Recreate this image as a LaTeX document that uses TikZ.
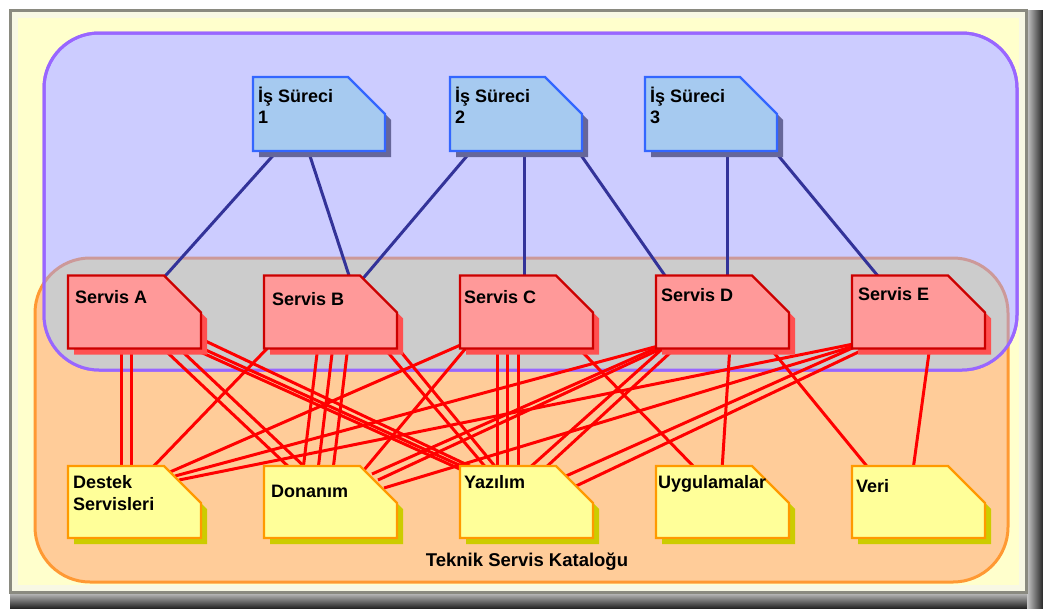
\documentclass[tikz,border=0pt]{standalone}
\usepackage{fontspec}
\setmainfont{Liberation Sans}
\usetikzlibrary{calc}

\definecolor{cream}{HTML}{FFFFCC}
\definecolor{creamEdge}{HTML}{F8F8E4}
\definecolor{frameLine}{HTML}{8A8A80}
\definecolor{purpleFill}{HTML}{CCCCFF}
\definecolor{purpleLine}{HTML}{9966FF}
\definecolor{orangeFill}{HTML}{FFCC99}
\definecolor{orangeLine}{HTML}{FF9933}
\definecolor{overlapFill}{HTML}{CCCCCC}
\definecolor{overlapLine}{HTML}{CC9999}
\definecolor{blueFill}{HTML}{A6CAF0}
\definecolor{blueLine}{HTML}{3366FF}
\definecolor{blueShadow}{HTML}{666699}
\definecolor{redFill}{HTML}{FF9999}
\definecolor{redLine}{HTML}{CC0000}
\definecolor{redShadow}{HTML}{FF5050}
\definecolor{yelFill}{HTML}{FFFF99}
\definecolor{yelLine}{HTML}{FF9900}
\definecolor{yelShadow}{HTML}{CCCC00}
\definecolor{linkBlue}{HTML}{333399}
\definecolor{linkRed}{HTML}{FF0000}

% cut-corner document box with drop shadow, drawn over a named node
\newcommand\cutnode[4]{%
  \fill[#4] ([shift={(6,6)}]#1.south west) -- ([shift={(6,6)}]#1.north west)
    -- ([shift={(-31,6)}]#1.north east) -- ([shift={(6,43)}]#1.north east)
    -- ([shift={(6,6)}]#1.south east) -- cycle;
  \filldraw[fill=#2, draw=#3, line width=2.2, line join=miter] (#1.south west) -- (#1.north west)
    -- ([shift={(-37,0)}]#1.north east) -- ([shift={(0,37)}]#1.north east)
    -- (#1.south east) -- cycle;}
% connector between two nodes, ends given as offsets from each node's top-left corner
\newcommand\rlink[4]{\draw[redlink] ([shift={#2}]#1.north west) -- ([shift={#4}]#3.north west);}
\newcommand\blink[4]{\draw[bluelink] ([shift={#2}]#1.north west) -- ([shift={#4}]#3.north west);}

\begin{document}
\begin{tikzpicture}[x=1pt,y=-1pt,
  box/.style={draw=none, inner sep=0, outer sep=0, minimum width=133, minimum height=73},
  bpbox/.style={box, minimum width=132, minimum height=74},
  catbox/.style={box, minimum height=72},
  lbl/.style={anchor=base west, inner sep=0, font=\fontsize{18}{21}\selectfont\bfseries},
  redlink/.style={linkRed, line width=3},
  bluelink/.style={linkBlue, line width=3}]
\useasboundingbox (0,0) rectangle (1043,608);

% page frame with bevel and shadow
\fill[white] (0,0) rectangle (1043,608);
\shade[top color=gray!45, bottom color=black!85] (10,592) rectangle (1043,608);
\shade[left color=gray!45, right color=black!85] (1027,10) rectangle (1043,608);
\draw[frameLine, line width=3, fill=cream] (10.5,10.5) rectangle (1026,592);
\draw[creamEdge, line width=6] (15,15) rectangle (1021.5,587.5);

% service catalogue area and business area
\filldraw[fill=orangeFill, draw=orangeLine, line width=3, rounded corners=55] (35,258) rectangle (1008,582);
\filldraw[fill=purpleFill, draw=purpleLine, line width=3, rounded corners=55] (44,33) rectangle (1017,370);
\begin{scope}
  \clip[rounded corners=55] (44,33) rectangle (1017,370);
  \filldraw[fill=overlapFill, draw=overlapLine, line width=3, rounded corners=55] (35,258) rectangle (1008,582);
\end{scope}
\draw[purpleLine, line width=3, rounded corners=55] (44,33) rectangle (1017,370);

\node[anchor=base, inner sep=0, font=\fontsize{18.5}{22}\selectfont\bfseries] (cat) at (527,566) {Teknik Servis Kataloğu};

% node frames
\node[bpbox] (bp1) at (319,114) {};
\node[bpbox] (bp2) at (516,114) {};
\node[bpbox] (bp3) at (711,114) {};
\node[box] (sA) at (134.5,312) {};
\node[box] (sB) at (330.5,312) {};
\node[box] (sC) at (526.5,312) {};
\node[box] (sD) at (722.5,312) {};
\node[box] (sE) at (918.5,312) {};
\node[catbox] (dk) at (134.5,502) {};
\node[catbox] (do) at (330.5,502) {};
\node[catbox] (yz) at (526.5,502) {};
\node[catbox] (uy) at (722.5,502) {};
\node[catbox] (ve) at (918.5,502) {};

% process to service links
\blink{bp1}{(25,73)}{sA}{(95,3)}
\blink{bp1}{(55,73)}{sB}{(86,3)}
\blink{bp2}{(22,73)}{sB}{(99,3)}
\blink{bp2}{(74,73)}{sC}{(64,3)}
\blink{bp2}{(126,71)}{sD}{(11,3)}
\blink{bp3}{(82,73)}{sD}{(71,3)}
\blink{bp3}{(127,71)}{sE}{(28,3)}

% service to catalogue links
\rlink{sA}{(53,70)}{dk}{(53,4)}
\rlink{sA}{(63,70)}{dk}{(63,4)}
\rlink{sA}{(92,70)}{do}{(28,4)}
\rlink{sA}{(108,70)}{do}{(44,4)}
\rlink{sA}{(118,70)}{yz}{(2,4)}
\rlink{sA}{(130,71)}{yz}{(10,4)}
\rlink{sA}{(130,62)}{yz}{(18,4)}
\rlink{sB}{(6,70)}{dk}{(82,4)}
\rlink{sB}{(54,70)}{do}{(39,4)}
\rlink{sB}{(69,70)}{do}{(54,4)}
\rlink{sB}{(84,70)}{do}{(69,4)}
\rlink{sB}{(118,70)}{yz}{(28,4)}
\rlink{sB}{(130,68)}{yz}{(38,4)}
\rlink{sC}{(4,68)}{dk}{(102,6)}
\rlink{sC}{(8,70)}{do}{(100,4)}
\rlink{sC}{(37,70)}{yz}{(37,4)}
\rlink{sC}{(47,70)}{yz}{(47,4)}
\rlink{sC}{(58,70)}{yz}{(58,4)}
\rlink{sC}{(116,70)}{uy}{(41,4)}
\rlink{sD}{(4,70)}{dk}{(107,10)}
\rlink{sD}{(6,70)}{do}{(108,8)}
\rlink{sD}{(12,70)}{do}{(114,14)}
\rlink{sD}{(10,70)}{yz}{(67,4)}
\rlink{sD}{(22,70)}{yz}{(83,4)}
\rlink{sD}{(74,70)}{uy}{(66,4)}
\rlink{sD}{(112,70)}{ve}{(18,4)}
\rlink{sE}{(4,68)}{dk}{(111,14)}
\rlink{sE}{(4,70)}{do}{(120,22)}
\rlink{sE}{(6,70)}{yz}{(106,10)}
\rlink{sE}{(16,72)}{yz}{(116,20)}
\rlink{sE}{(78,70)}{ve}{(61,4)}

% boxes
\foreach \n in {bp1,bp2,bp3} {\cutnode{\n}{blueFill}{blueLine}{blueShadow}}
\foreach \n in {sA,sB,sC,sD,sE} {\cutnode{\n}{redFill}{redLine}{redShadow}}
\foreach \n in {dk,do,yz,uy,ve} {\cutnode{\n}{yelFill}{yelLine}{yelShadow}}

% labels
\node[lbl] (bp1a) at (258,102) {İş Süreci};
\node[lbl] (bp1b) at (258,123) {1};
\node[lbl] (bp2a) at (455,102) {İş Süreci};
\node[lbl] (bp2b) at (455,123) {2};
\node[lbl] (bp3a) at (650,102) {İş Süreci};
\node[lbl] (bp3b) at (650,123) {3};
\node[lbl] (sAt) at (75,303) {Servis A};
\node[lbl] (sBt) at (272,305) {Servis B};
\node[lbl] (sCt) at (464,303) {Servis C};
\node[lbl] (sDt) at (661,301) {Servis D};
\node[lbl] (sEt) at (858,300) {Servis E};
\node[lbl] (dka) at (73,488) {Destek};
\node[lbl] (dkb) at (73,510) {Servisleri};
\node[lbl] (dot) at (271,497) {Donanım};
\node[lbl] (yzt) at (464,488) {Yazılım};
\node[lbl] (uyt) at (658,488) {Uygulamalar};
\node[lbl] (vet) at (856,492) {Veri};
\end{tikzpicture}
\end{document}
